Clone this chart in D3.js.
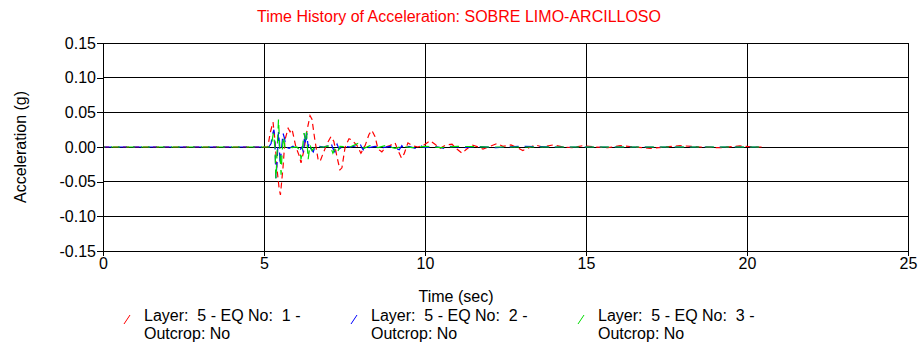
<!DOCTYPE html>
<html>
<head>
<meta charset="utf-8">
<script src="https://cdn.jsdelivr.net/npm/d3@7"></script>
<style>
  html, body { margin: 0; padding: 0; background: #fff; }
  svg { display: block; font-family: "Liberation Sans", Arial, sans-serif; }
  svg text { white-space: pre; }
</style>
</head>
<body>
<svg id="chart" width="922" height="344"></svg>
<script>
// Acceleration time histories (time in s, acceleration in g), three input motions
const timeEq1 = [0, 5.0, 5.12, 5.19, 5.28, 5.34, 5.40, 5.47, 5.51, 5.59, 5.65, 5.75, 5.81, 5.87, 5.99, 6.09, 6.15, 6.24, 6.34, 6.43, 6.49, 6.58, 6.68, 6.74, 6.83, 6.96, 7.08, 7.17, 7.27, 7.36, 7.42, 7.52, 7.64, 7.73, 7.89, 8.01, 8.14, 8.26, 8.35, 8.45, 8.54, 8.66, 8.79, 8.91, 9.07, 9.16, 9.27, 9.35, 9.47, 9.60, 9.78, 9.97, 10.16, 10.31, 10.47, 10.65, 10.84, 10.99, 11.15, 11.27, 11.46, 11.65, 11.80, 12.02, 12.24, 12.42, 12.67, 12.86, 13.04, 13.23, 13.42, 13.66, 13.98, 14.29, 14.57, 14.91, 15.28, 15.68, 16.06, 16.52, 16.99, 17.45, 17.92, 18.54, 19.16, 19.78, 20.25, 20.48];
const accEq1  = [0, 0, 0, 0.020, 0.036, 0.010, -0.030, -0.060, -0.069, -0.030, 0.010, 0.027, 0.022, 0.026, 0.000, -0.012, -0.023, -0.005, 0.025, 0.045, 0.040, 0.010, -0.018, -0.021, -0.010, 0.005, 0.015, 0.008, -0.015, -0.033, -0.030, 0.000, 0.012, 0.010, 0.002, -0.009, 0.002, 0.018, 0.024, 0.015, -0.003, -0.007, 0.000, 0.002, 0.006, -0.005, -0.016, -0.010, 0.006, 0.002, 0.000, 0.003, 0.009, 0.004, -0.002, 0.003, 0.004, -0.003, -0.009, -0.004, 0.003, 0.000, -0.003, 0.001, 0.005, 0.001, 0.003, -0.001, -0.005, -0.001, 0.003, 0.000, 0.003, 0.000, -0.001, 0.002, 0.000, -0.001, 0.002, 0.000, -0.002, 0.000, 0.002, 0.000, -0.001, 0.0015, 0, 0];

const timeEq2 = [0, 5.15, 5.22, 5.26, 5.31, 5.34, 5.37, 5.41, 5.45, 5.47, 5.50, 5.54, 5.59, 5.64, 5.68, 5.78, 5.90, 6.02, 6.12, 6.18, 6.23, 6.26, 6.30, 6.33, 6.37, 6.40, 6.45, 6.53, 6.58, 6.70, 6.86, 7.02, 7.08, 7.14, 7.20, 7.27, 7.33, 7.45, 7.70, 7.89, 7.98, 8.05, 8.08, 8.14, 8.26, 8.45, 8.70, 8.91, 9.10, 9.20, 9.28, 9.35, 9.50, 9.70, 9.85, 10.0, 10.3, 10.6, 10.8, 11.2, 11.6, 12.2, 13.0, 14.0, 20.48];
const accEq2  = [0, 0, 0.005, 0.018, 0.025, 0.005, -0.045, -0.020, 0.022, 0.010, -0.026, -0.005, 0.020, 0.012, 0.000, -0.002, 0.001, -0.003, -0.004, 0.000, -0.009, 0.020, 0.004, 0.020, 0.000, 0.006, -0.002, -0.007, 0.000, 0.001, 0.000, 0.002, 0.006, -0.002, -0.007, 0.004, -0.003, 0.001, 0.000, 0.002, 0.005, -0.002, -0.004, 0.003, -0.001, 0.001, -0.001, 0.001, -0.002, -0.004, 0.002, -0.003, 0.001, -0.002, 0.002, -0.001, 0.001, -0.002, 0.001, -0.001, 0.001, -0.001, 0.001, 0, 0];

const timeEq3 = [0, 5.20, 5.25, 5.29, 5.34, 5.37, 5.40, 5.45, 5.48, 5.53, 5.56, 5.60, 5.65, 5.75, 5.87, 6.02, 6.12, 6.15, 6.20, 6.24, 6.29, 6.32, 6.37, 6.43, 6.49, 6.58, 6.86, 7.05, 7.14, 7.20, 7.27, 7.36, 7.67, 7.92, 8.01, 8.11, 8.29, 8.54, 8.76, 9.07, 9.29, 9.6, 10.0, 10.5, 11.0, 12.0, 20.48];
const accEq3  = [0, 0, 0.008, 0.020, 0.000, -0.046, -0.015, 0.040, 0.010, -0.040, -0.010, 0.015, 0.000, 0.002, -0.001, 0.000, -0.005, -0.018, 0.000, 0.020, 0.010, 0.022, -0.018, 0.003, -0.005, 0.000, 0.000, 0.002, -0.009, -0.003, -0.009, 0.001, 0.000, 0.005, 0.003, -0.002, 0.002, -0.001, 0.002, -0.002, 0.001, -0.001, 0.001, -0.001, 0.001, 0, 0];

const xTicks = [0, 5, 10, 15, 20, 25];
const yTicks = [-0.15, -0.10, -0.05, 0.00, 0.05, 0.10, 0.15];

const seriesNames = ["Layer:  5 - EQ No:  1 -", "Layer:  5 - EQ No:  2 -", "Layer:  5 - EQ No:  3 -"];
const seriesSub = "Outcrop: No";
const seriesColors = ["#ff0000", "#0000ff", "#00dd00"];

const titleText = "Time History of Acceleration: SOBRE LIMO-ARCILLOSO";
const xLabel = "Time (sec)";
const yLabel = "Acceleration (g)";

const svg = d3.select("#chart");
const margin = { left: 103, right: 14, top: 43, bottom: 93 };
const W = 922, H = 344;
const plotW = W - margin.left - margin.right;
const plotH = H - margin.top - margin.bottom;
const FS = 16;

const x = d3.scaleLinear().domain([0, 25]).range([margin.left, margin.left + plotW]);
const y = d3.scaleLinear().domain([-0.15, 0.15]).range([margin.top + plotH, margin.top]);

// title
svg.append("text")
  .attr("x", 459).attr("y", 22)
  .attr("text-anchor", "middle")
  .attr("fill", "#ff0000")
  .attr("font-size", FS)
  .text(titleText);

// grid lines
const grid = svg.append("g").attr("stroke", "#000").attr("stroke-width", 1).attr("shape-rendering", "crispEdges");
grid.selectAll("line.h").data(yTicks).join("line")
  .attr("x1", x(0)).attr("x2", x(25))
  .attr("y1", d => y(d)).attr("y2", d => y(d));
grid.selectAll("line.v").data(xTicks).join("line")
  .attr("y1", y(-0.15)).attr("y2", y(0.15))
  .attr("x1", d => x(d)).attr("x2", d => x(d));

// series
const series = [
  { t: timeEq1, a: accEq1, color: seriesColors[0], dash: "6,4", offset: 0 },
  { t: timeEq2, a: accEq2, color: seriesColors[1], dash: "9,6", offset: 0 },
  { t: timeEq3, a: accEq3, color: seriesColors[2], dash: "9,6", offset: 7 }
];
const line = d3.line().x(d => x(d[0])).y(d => y(d[1]));
const plot = svg.append("g");
series.forEach(s => {
  const pts = s.t.map((t, i) => [t, s.a[i]]);
  plot.append("path")
    .datum(pts)
    .attr("d", line)
    .attr("fill", "none")
    .attr("stroke", s.color)
    .attr("stroke-width", 1.2)
    .attr("stroke-dasharray", s.dash)
    .attr("stroke-dashoffset", s.offset);
});

// frame
svg.append("rect")
  .attr("x", x(0)).attr("y", y(0.15))
  .attr("width", x(25) - x(0)).attr("height", y(-0.15) - y(0.15))
  .attr("fill", "none").attr("stroke", "#000").attr("stroke-width", 1)
  .attr("shape-rendering", "crispEdges");

// axes (plain hyphen-minus for negative labels)
const fmt2 = d => d3.format(".2f")(d).replace("\u2212", "-");
const yAxis = d3.axisLeft(y).tickValues(yTicks).tickFormat(fmt2).tickSize(6).tickPadding(1);
const gy = svg.append("g").attr("transform", `translate(${x(0)},0)`).call(yAxis);
const xAxis = d3.axisBottom(x).tickValues(xTicks).tickFormat(d3.format("d")).tickSize(5).tickPadding(2);
const gx = svg.append("g").attr("transform", `translate(0,${y(-0.15)})`).call(xAxis);
[gy, gx].forEach(g => {
  g.select(".domain").remove();
  g.selectAll(".tick line").attr("stroke", "#000").attr("shape-rendering", "crispEdges");
  g.selectAll(".tick text").attr("fill", "#000").attr("font-size", FS)
    .attr("font-family", "'Liberation Sans', Arial, sans-serif");
});

// axis titles
svg.append("text")
  .attr("x", 456).attr("y", 302)
  .attr("text-anchor", "middle").attr("font-size", FS)
  .text(xLabel);
svg.append("text")
  .attr("transform", `translate(26,${y(0)}) rotate(-90)`)
  .attr("text-anchor", "middle").attr("font-size", FS)
  .text(yLabel);

// legend
const legendX = [124, 351, 578];
const legend = svg.append("g");
seriesNames.forEach((name, i) => {
  const lx = legendX[i];
  legend.append("line")
    .attr("x1", lx).attr("y1", 324).attr("x2", lx + 6).attr("y2", 315)
    .attr("stroke", seriesColors[i]).attr("stroke-width", 1);
  legend.append("text")
    .attr("x", lx + 20).attr("y", 321)
    .attr("font-size", FS)
    .text(name);
  legend.append("text")
    .attr("x", lx + 20).attr("y", 339)
    .attr("font-size", FS)
    .text(seriesSub);
});
</script>
</body>
</html>
